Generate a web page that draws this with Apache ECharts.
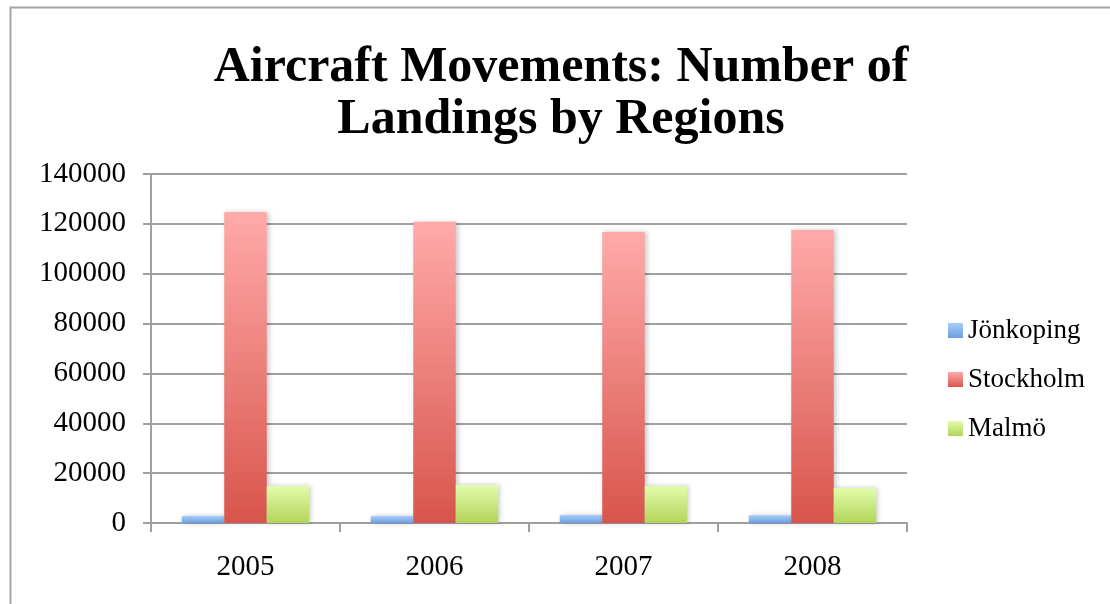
<!DOCTYPE html>
<html>
<head>
<meta charset="utf-8">
<script src="https://cdn.jsdelivr.net/npm/echarts@6/dist/echarts.min.js"></script>
<style>
  html, body { margin: 0; padding: 0; background: #fff; }
  #chart { width: 1110px; height: 604px; }
</style>
</head>
<body>
<div id="chart"></div>
<script>
// Landings per year for each region
const years = ['2005', '2006', '2007', '2008'];
const jonkoping = [2800, 2800, 3200, 3100];
const stockholm = [124800, 120800, 116700, 117500];
const malmo = [14800, 15200, 14800, 14000];
const yTicks = [0, 20000, 40000, 60000, 80000, 100000, 120000, 140000];

const FONT = '"Liberation Serif", "DejaVu Serif", serif';

function grad(top, bottom) {
  return new echarts.graphic.LinearGradient(0, 0, 0, 1, [
    { offset: 0, color: top },
    { offset: 1, color: bottom }
  ]);
}

const barShadow = {
  shadowColor: 'rgba(0,0,0,0.22)',
  shadowBlur: 5,
  shadowOffsetX: 2,
  shadowOffsetY: 0
};

function barSeries(name, data, top, bottom) {
  return {
    name: name,
    type: 'bar',
    data: data,
    barWidth: 42.5,
    barGap: '0%',
    itemStyle: Object.assign({ color: grad(top, bottom) }, barShadow)
  };
}

const chart = echarts.init(document.getElementById('chart'), null, { renderer: 'canvas' });

chart.setOption({
  backgroundColor: '#fff',
  animation: false,
  graphic: [{
    type: 'rect',
    left: 8, top: 5,
    shape: { width: 1200, height: 700 },
    style: { fill: 'none', stroke: '#a4a4a4', lineWidth: 2 },
    silent: true,
    z: -1
  }],
  title: {
    text: 'Aircraft Movements: Number of\nLandings by Regions',
    left: 561,
    textAlign: 'center',
    top: 42,
    padding: 0,
    textStyle: {
      fontFamily: FONT,
      fontWeight: 'bold',
      fontSize: 50,
      lineHeight: 52,
      color: '#000'
    }
  },
  legend: {
    orient: 'vertical',
    left: 948,
    top: 317,
    padding: 0,
    itemWidth: 15,
    itemHeight: 15,
    itemGap: 22,
    icon: 'rect',
    textStyle: { fontFamily: FONT, fontSize: 27, color: '#000' },
    data: ['Jönkoping', 'Stockholm', 'Malmö']
  },
  grid: { left: 151, right: 203, top: 174, bottom: 81, containLabel: false },
  xAxis: {
    type: 'category',
    data: years,
    axisLine: { show: true, lineStyle: { color: '#a0a0a0', width: 2 } },
    axisTick: { show: true, alignWithLabel: false, length: 9, lineStyle: { color: '#a0a0a0', width: 2 } },
    axisLabel: { fontFamily: FONT, fontSize: 29, color: '#000', margin: 30 }
  },
  yAxis: {
    type: 'value',
    min: 0,
    max: 140000,
    interval: 20000,
    axisLine: { show: true, lineStyle: { color: '#a0a0a0', width: 2 } },
    axisTick: { show: true, length: 8, lineStyle: { color: '#a0a0a0', width: 2 } },
    axisLabel: {
      fontFamily: FONT, fontSize: 29, color: '#000', margin: 25,
      formatter: v => yTicks.includes(v) ? String(v) : ''
    },
    splitLine: { show: true, lineStyle: { color: '#a0a0a0', width: 2 } }
  },
  series: [
    barSeries('Jönkoping', jonkoping, '#a8cdf8', '#6a9ee2'),
    barSeries('Stockholm', stockholm, '#ffaaaa', '#d8554b'),
    barSeries('Malmö', malmo, '#e2fcaa', '#b3d45a')
  ]
});
</script>
</body>
</html>
